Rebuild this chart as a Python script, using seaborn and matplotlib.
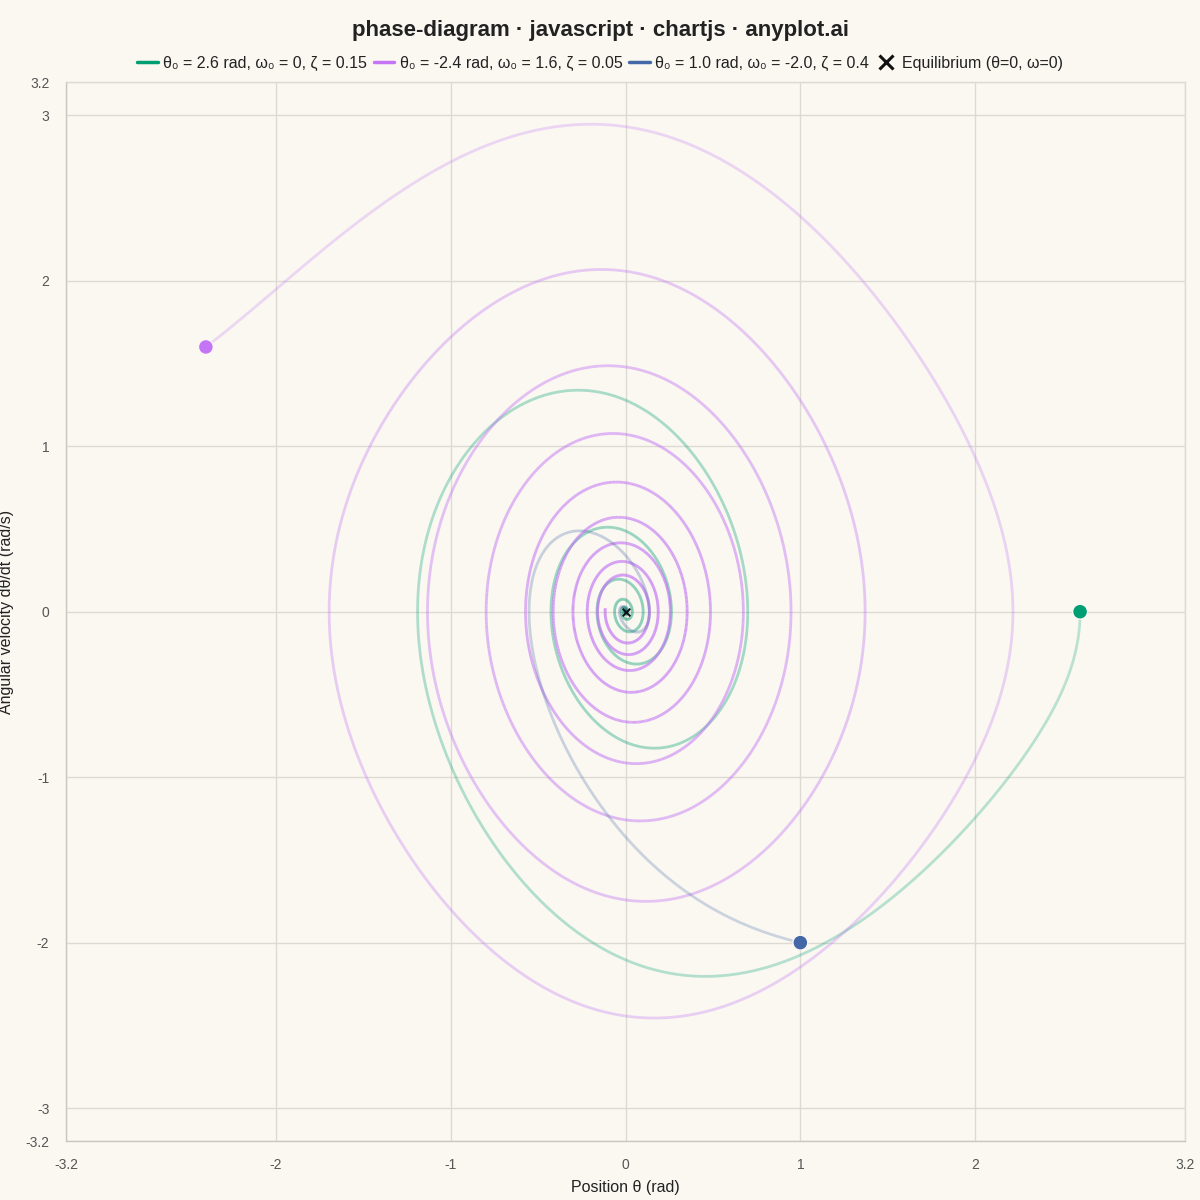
import numpy as np
import pandas as pd
import seaborn as sns
import matplotlib.pyplot as plt
from matplotlib.collections import LineCollection
from matplotlib.colors import to_rgba
from matplotlib.lines import Line2D

labels = ['θ₀ = 2.6 rad, ω₀ = 0, ζ = 0.15',
          'θ₀ = -2.4 rad, ω₀ = 1.6, ζ = 0.05',
          'θ₀ = 1.0 rad, ω₀ = -2.0, ζ = 0.4']
theta0 = [2.6, -2.4, 1.0]
omega0 = [0.0, 1.6, -2.0]
zeta = [0.15, 0.05, 0.4]
colors = ['#009E73', '#C475F5', '#4467A8']
wn = 1.5          # natural frequency estimated from the loops
t_end = 40.0
dt = 0.01

def rhs(s, z):
    th, om = s
    return np.array([om, -2 * z * wn * om - wn ** 2 * np.sin(th)])

def simulate(th, om, z):
    s = np.array([th, om])
    out = [s.copy()]
    for _ in range(int(t_end / dt)):
        k1 = rhs(s, z)
        k2 = rhs(s + dt / 2 * k1, z)
        k3 = rhs(s + dt / 2 * k2, z)
        k4 = rhs(s + dt * k3, z)
        s = s + dt / 6 * (k1 + 2 * k2 + 2 * k3 + k4)
        out.append(s.copy())
    return np.array(out)

sns.set_theme(style='white')
plt.rcParams['font.family'] = ['Liberation Sans', 'DejaVu Sans']

fig = plt.figure(figsize=(12, 12), dpi=100, facecolor='#FAF8F1')
ax = fig.add_axes([0.055, 0.049, 0.9325, 0.8825])
ax.set_facecolor('#FAF8F1')

start = []
for i in range(3):
    tr = simulate(theta0[i], omega0[i], zeta[i])
    pts = tr.reshape(-1, 1, 2)
    segs = np.concatenate([pts[:-1], pts[1:]], axis=1)
    alpha = np.linspace(0.25, 0.95, len(segs))
    rgba = np.tile(to_rgba(colors[i]), (len(segs), 1))
    rgba[:, 3] = alpha
    ax.add_collection(LineCollection(segs, colors=rgba, linewidths=2.0, zorder=2))
    start.append({'theta': theta0[i], 'omega': omega0[i], 'label': labels[i]})

start = pd.DataFrame(start)
sns.scatterplot(data=start, x='theta', y='omega', hue='label', palette=colors,
                s=115, edgecolor='#FAF8F1', linewidth=1.0, zorder=4, legend=False, ax=ax)
ax.scatter([0], [0], marker='x', s=30, color='#111111', linewidths=1.4, zorder=5)

ax.set_xlim(-3.2, 3.2)
ax.set_ylim(-3.2, 3.2)
ax.set_xticks([-3.2, -2, -1, 0, 1, 2, 3.2])
ax.set_xticklabels(['-3.2', '-2', '-1', '0', '1', '2', '3.2'])
ax.set_yticks([-3.2, -3, -2, -1, 0, 1, 2, 3, 3.2])
ax.set_yticklabels(['-3.2', '-3', '-2', '-1', '0', '1', '2', '3', '3.2'])
ax.grid(True, color='#DCDAD3', linewidth=1)
ax.tick_params(axis='both', length=8, color='#DCDAD3', labelsize=10, labelcolor='#555555', pad=4)
for sp in ax.spines.values():
    sp.set_color('#DCDAD3')
    sp.set_linewidth(1)
ax.spines['left'].set_color('#C8C6C0')
ax.spines['bottom'].set_color('#C8C6C0')
ax.set_axisbelow(True)

ax.set_xlabel('Position θ (rad)', fontsize=11.5, color='#222222', labelpad=6)
ax.set_ylabel('Angular velocity dθ/dt (rad/s)', fontsize=11.5, color='#222222', labelpad=8)

handles = [Line2D([], [], color=c, lw=2.5) for c in colors]
handles.append(Line2D([], [], color='#111111', marker='x', linestyle='none', markersize=10, markeredgewidth=2.2))
fig.legend(handles, labels + ['Equilibrium (θ=0, ω=0)'], loc='center', bbox_to_anchor=(0.5, 0.947),
           ncol=4, frameon=False, fontsize=11.5, handlelength=1.3, handletextpad=0.35, columnspacing=0.4,
           labelcolor='#222222')
fig.suptitle('phase-diagram · javascript · chartjs · anyplot.ai', y=0.983, fontsize=16,
             fontweight='bold', color='#222222')

fig.savefig('out.png', dpi=100, facecolor=fig.get_facecolor())
